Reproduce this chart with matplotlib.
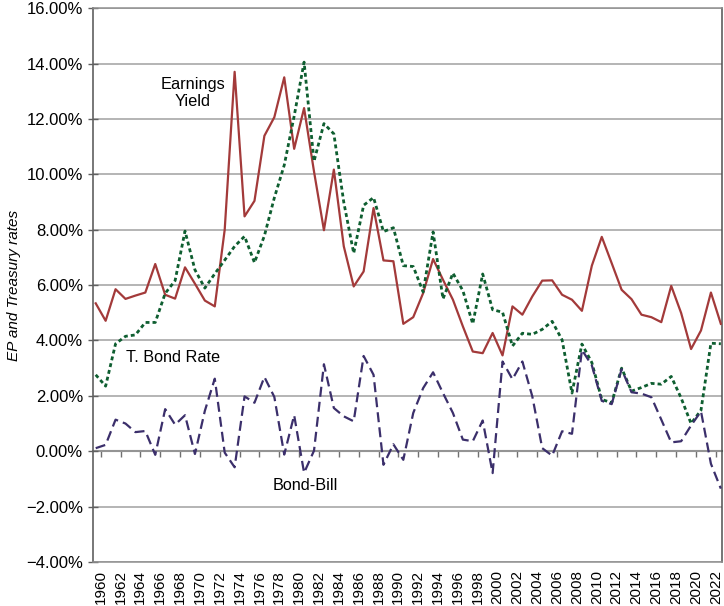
import matplotlib
matplotlib.use("Agg")
import matplotlib.pyplot as plt
from matplotlib import font_manager
from matplotlib.ticker import FuncFormatter

years = list(range(1960, 2024))

earnings_yield = [5.34, 4.71, 5.85, 5.50, 5.62, 5.73, 6.76, 5.65, 5.51, 6.64,
                  6.05, 5.44, 5.23, 8.00, 13.70, 8.48, 9.04, 11.39, 12.06, 13.50,
                  10.92, 12.39, 10.10, 7.98, 10.17, 7.40, 5.95, 6.49, 8.78, 6.89,
                  6.86, 4.60, 4.84, 5.71, 6.94, 6.19, 5.47, 4.51, 3.60, 3.54,
                  4.27, 3.46, 5.23, 4.93, 5.59, 6.16, 6.17, 5.65, 5.47, 5.07,
                  6.70, 7.74, 6.79, 5.83, 5.49, 4.93, 4.84, 4.66, 5.97, 4.99,
                  3.69, 4.36, 5.73, 4.60]

t_bond_rate = [2.76, 2.35, 3.88, 4.15, 4.20, 4.65, 4.65, 5.70, 6.16, 7.95,
               6.55, 5.89, 6.41, 6.90, 7.40, 7.76, 6.81, 7.78, 9.15, 10.33,
               12.10, 14.05, 10.47, 11.83, 11.46, 8.99, 7.15, 8.88, 9.16, 7.93,
               8.07, 6.70, 6.67, 5.75, 7.92, 5.50, 6.43, 5.80, 4.60, 6.40,
               5.11, 5.02, 3.80, 4.26, 4.22, 4.40, 4.69, 4.02, 2.10, 3.87,
               3.20, 1.87, 1.75, 3.00, 2.17, 2.30, 2.45, 2.42, 2.70, 1.92,
               1.00, 1.48, 3.90, 3.88]

bond_bill = [0.11, 0.23, 1.14, 1.00, 0.69, 0.73, -0.13, 1.52, 0.96, 1.30,
             -0.10, 1.46, 2.62, -0.05, -0.58, 1.98, 1.75, 2.68, 1.96, -0.12,
             1.30, -0.78, 0.02, 3.14, 1.56, 1.26, 1.08, 3.44, 2.76, -0.49,
             0.25, -0.31, 1.38, 2.28, 2.85, 2.10, 1.38, 0.42, 0.36, 1.11,
             -0.79, 3.24, 2.60, 3.24, 1.98, 0.11, -0.16, 0.72, 0.63, 3.66,
             3.10, 1.82, 1.70, 2.96, 2.13, 2.08, 1.95, 1.14, 0.32, 0.36,
             0.93, 1.44, -0.45, -1.35]

label_years = list(range(1960, 2023, 2))
y_ticks = list(range(-4, 17, 2))

# fonts: narrow face for the y tick labels if there is one
names = {f.name for f in font_manager.fontManager.ttflist}
if "Liberation Sans Narrow" in names:
    ytick_font, ytick_size = "Liberation Sans Narrow", 14
else:
    ytick_font, ytick_size = "Liberation Sans", 12
plt.rcParams["font.family"] = ["Liberation Sans", "DejaVu Sans"]

fig = plt.figure(figsize=(7.24, 6.06), dpi=100)
ax = fig.add_axes([0.1285, 0.0726, 0.8685, 0.914])

ax.plot(years, earnings_yield, color="#a33a3a", lw=1.6, zorder=3)
ax.plot(years, t_bond_rate, color="#0e5e30", lw=2.0,
        linestyle=(0, (1.4, 1.1)), zorder=3)
ax.plot(years, bond_bill, color="#3b2f6b", lw=1.6,
        linestyle=(0, (4.5, 2.3)), zorder=3)

ax.set_xlim(1959.73, 2023.1)
ax.set_ylim(-4, 16)

# gridlines
ax.set_yticks(y_ticks)
ax.yaxis.grid(True, color="#a0a0a0", lw=1.1)
ax.set_axisbelow(True)
ax.yaxis.set_major_formatter(FuncFormatter(lambda v, p: f"{v:.2f}%".replace("-", "\u2212")))
ax.tick_params(axis="y", direction="inout", length=6.5, width=1.0,
               color="#606060", pad=4)
for lab in ax.get_yticklabels():
    lab.set_fontfamily(ytick_font)
    lab.set_fontsize(ytick_size)

# x labels sit at the bottom, between the points
ax.set_xticks([y + 0.5 for y in label_years])
ax.set_xticklabels([str(y) for y in label_years], rotation=90, fontsize=11)
ax.tick_params(axis="x", length=0, pad=6)

for side in ["top", "right", "bottom"]:
    ax.spines[side].set_color("#909090")
    ax.spines[side].set_linewidth(1.1)
ax.spines["right"].set_color("#505050")
ax.spines["left"].set_color("#606060")
ax.spines["left"].set_linewidth(1.2)

# horizontal axis line at zero with its tick marks
sec = ax.secondary_xaxis(0.2)
sec.set_xticks([y + 0.5 for y in label_years])
sec.tick_params(axis="x", direction="out", length=4, width=1.0,
                color="#707070", labelbottom=False)
sec.spines["bottom"].set_color("#707070")
sec.spines["bottom"].set_linewidth(1.5)

ax.set_ylabel("EP and Treasury rates", fontsize=11, style="italic", labelpad=6)
ax.yaxis.set_label_coords(-0.115, 0.5)

ax.text(1969.76, 12.94, "Earnings\nYield", fontsize=11.8, ha="center",
        va="center", multialignment="center", linespacing=1.15)
ax.text(1967.8, 3.38, "T. Bond Rate", fontsize=11.7, ha="center", va="center")
ax.text(1981.1, -1.25, "Bond-Bill", fontsize=11.7, ha="center", va="center")

fig.savefig("out.png", dpi=100)
